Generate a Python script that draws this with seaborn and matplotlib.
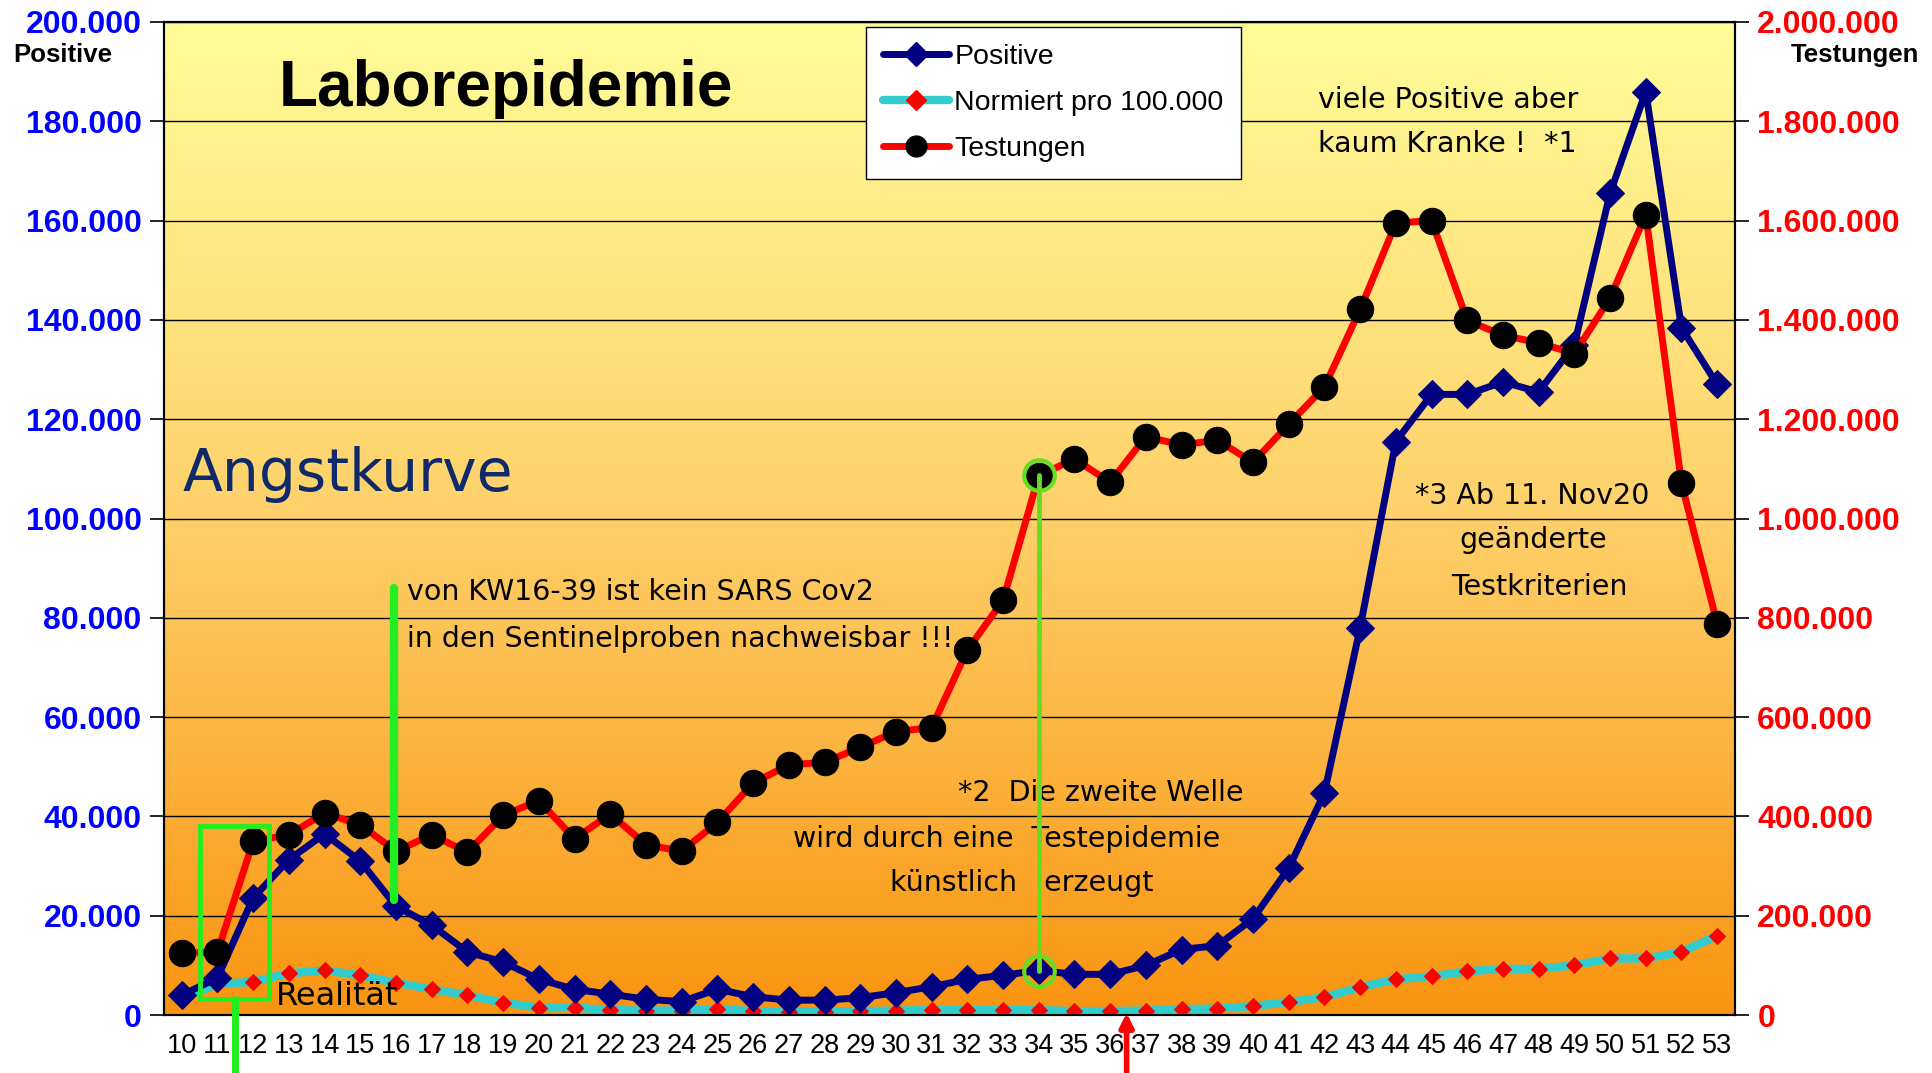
import numpy as np
import pandas as pd
import seaborn as sns
import matplotlib.pyplot as plt
from matplotlib.colors import LinearSegmentedColormap
from matplotlib.lines import Line2D
from matplotlib.patches import Rectangle

# Kalenderwochen 2020
weeks = list(range(10, 54))

positive = [4000, 7500, 23600, 31300, 36500, 31000, 21900, 18100, 12700, 10700,
            7200, 5200, 4200, 3200, 2700, 5200, 3700, 3000, 3000, 3500,
            4500, 5700, 7200, 8000, 9000, 8200, 8200, 10000, 13200, 14000,
            19400, 29600, 44700, 78000, 115500, 125000, 125000, 127500, 125500, 135000,
            165500, 186000, 138400, 127000]

normiert = [3500, 6200, 6700, 8400, 9000, 8000, 6500, 5200, 4000, 2500,
            1500, 1500, 1000, 900, 900, 1200, 800, 700, 700, 800,
            900, 1000, 1000, 1000, 1000, 800, 800, 900, 1200, 1300,
            1800, 2600, 3600, 5600, 7200, 7800, 8800, 9300, 9300, 10000,
            11400, 11400, 12700, 16000]

testungen = [124000, 127000, 350000, 363000, 407000, 383000, 330000, 363000, 328000, 402000,
             432000, 355000, 405000, 343000, 330000, 388000, 467000, 504000, 509000, 539000,
             571000, 579000, 735000, 835000, 1086000, 1120000, 1073000, 1165000, 1148000, 1158000,
             1113000, 1190000, 1265000, 1421000, 1595000, 1600000, 1399000, 1369000, 1354000, 1332000,
             1444000, 1612000, 1071000, 788000]

df = pd.DataFrame({"KW": weeks, "Positive": positive,
                   "Normiert": normiert, "Testungen": testungen})

left_ticks = list(range(0, 200001, 20000))
right_ticks = list(range(0, 2000001, 200000))

def de(v):
    return "{:,}".format(v).replace(",", ".")

sns.set_style("white")
plt.rcParams['font.family'] = ['Liberation Sans', 'DejaVu Sans']
plt.rcParams['text.color'] = 'black'
plt.rcParams['xtick.color'] = 'black'
plt.rcParams['ytick.color'] = 'black'

fig = plt.figure(figsize=(19.33, 10.73), dpi=100)
ax = fig.add_axes([0.0848, 0.054, 0.8128, 0.9255])
ax2 = ax.twinx()

# Hintergrund: Verlauf gelb -> orange
cmap = LinearSegmentedColormap.from_list("bg", [(0, "#F99410"), (0.5, "#FED06A"), (1, "#FFFD99")])
grad = np.linspace(0, 1, 256).reshape(-1, 1)
ax.imshow(grad, extent=[0, 1, 0, 1], transform=ax.transAxes, origin="lower",
          aspect="auto", cmap=cmap, zorder=0)

# Linien
sns.lineplot(data=df, x="KW", y="Normiert", ax=ax, color="#33CCCC", linewidth=6,
             marker="D", markersize=8, markerfacecolor="#FF0000", markeredgecolor="#FF0000", zorder=3)
sns.lineplot(data=df, x="KW", y="Positive", ax=ax, color="#000080", linewidth=5,
             marker="D", markersize=14, markerfacecolor="#000080", markeredgecolor="#000080", zorder=4)
sns.lineplot(data=df, x="KW", y="Testungen", ax=ax2, color="#FF0000", linewidth=5,
             marker="o", markersize=19, markerfacecolor="black", markeredgecolor="black", zorder=4)

ax.set_xlim(9.5, 53.5)
ax.set_ylim(0, 200000)
ax2.set_ylim(0, 2000000)

ax.set_yticks(left_ticks)
ax.set_yticklabels([de(v) for v in left_ticks], color="#0000FF", fontweight="bold", fontsize=23)
ax2.set_yticks(right_ticks)
ax2.set_yticklabels([de(v) for v in right_ticks], color="#FF0000", fontweight="bold", fontsize=23)

ax.set_xticks([w + 0.5 for w in range(9, 54)])
ax.set_xticklabels([])
ax.set_xticks(weeks, minor=True)
ax.set_xticklabels([str(w) for w in weeks], minor=True, fontsize=19.5, color="black")
ax.tick_params(axis="x", which="major", length=10, width=1.2, color="black", direction="out")
ax.tick_params(axis="x", which="minor", length=0, pad=13)
ax.tick_params(axis="y", length=10, width=1.2, color="black", direction="out", pad=6)
ax2.tick_params(axis="y", length=10, width=1.2, color="black", direction="out", pad=6)

ax.yaxis.grid(True, color="black", linewidth=1)
ax.set_axisbelow(False)
for a in (ax, ax2):
    for s in a.spines.values():
        s.set_color("black")
        s.set_linewidth(1.5)
ax.set_xlabel("")
ax.set_ylabel("")
ax2.set_ylabel("")

fig.text(0.007, 0.949, "Positive", fontsize=18.5, fontweight="bold", ha="left", va="center")
fig.text(0.993, 0.949, "Testungen", fontsize=18.5, fontweight="bold", ha="right", va="center")

# Beschriftungen (auf ax2, aber in Koordinaten der linken Achse)
T = ax.transData
ax2.text(19.08, 186600, "Laborepidemie", transform=T, fontsize=46, fontweight="bold",
         ha="center", va="center", color="black")
ax2.text(10.03, 108800, "Angstkurve", transform=T, fontsize=42, color="#0F2A6B",
         family="DejaVu Sans", ha="left", va="center")

txt = dict(transform=T, fontsize=20.5, family="DejaVu Sans", ha="left", va="center", color="black")
ax2.text(16.32, 85200, "von KW16-39 ist kein SARS Cov2", **txt)
ax2.text(16.32, 75800, "in den Sentinelproben nachweisbar !!!", **txt)
ax2.text(41.81, 184300, "viele Positive aber", **txt)
ax2.text(41.81, 175400, "kaum Kranke !  *1", **txt)
ax2.text(44.54, 104600, "*3 Ab 11. Nov20", **txt)
ax2.text(45.79, 95700, "geänderte", **txt)
ax2.text(45.54, 86200, "Testkriterien", **txt)
ax2.text(31.73, 44700, "*2  Die zweite Welle", **txt)
ax2.text(27.13, 35500, "wird durch eine  Testepidemie", **txt)
ax2.text(29.83, 26600, "künstlich   erzeugt", **txt)
ax2.text(12.63, 3700, "Realität", transform=T, fontsize=23, family="DejaVu Sans",
         ha="left", va="center", color="black")

# Grüne Markierungen
green = "#22EE22"
ax2.add_patch(Rectangle((10.52, 3200), 1.93, 34800, transform=T, fill=False,
                        edgecolor=green, linewidth=3.5, zorder=6))
ax2.plot([11.49, 11.49], [3200, -12000], transform=T, color=green, linewidth=5,
         clip_on=False, zorder=6)
ax2.plot([15.94, 15.94], [86000, 23100], transform=T, color=green, linewidth=6, zorder=6)
ax2.plot([34, 34], [108800, 8900], transform=T, color="#66DD22", linewidth=3.5, zorder=6)
ax2.plot([34, 34], [108800, 8900], transform=T, linestyle="none", marker="o", markersize=22,
         markerfacecolor="none", markeredgecolor="#66DD22", markeredgewidth=3, zorder=6)

# Roter Pfeil
ax2.annotate("", xy=(36.46, 1000), xytext=(36.46, -12000), xycoords=T, textcoords=T,
             arrowprops=dict(arrowstyle="-|>,head_length=0.8,head_width=0.4", color="#FF0000", lw=4),
             annotation_clip=False, zorder=7)

# Legende
handles = [
    Line2D([], [], color="#000080", linewidth=5, marker="D", markersize=12,
           markerfacecolor="#000080", markeredgecolor="#000080"),
    Line2D([], [], color="#33CCCC", linewidth=6, marker="D", markersize=10,
           markerfacecolor="#FF0000", markeredgecolor="#FF0000"),
    Line2D([], [], color="#FF0000", linewidth=5, marker="o", markersize=15,
           markerfacecolor="black", markeredgecolor="black"),
]
leg = ax2.legend(handles, ["Positive", "Normiert pro 100.000", "Testungen"],
                 loc="upper left", bbox_to_anchor=(0.447, 0.995), fontsize=20.5,
                 frameon=True, fancybox=False, framealpha=1, edgecolor="black",
                 handlelength=2.3, handletextpad=0.2, labelspacing=0.7, borderpad=0.6,
                 borderaxespad=0)
leg.get_frame().set_linewidth(1)
for t in leg.get_texts():
    t.set_color("black")
leg.set_zorder(10)

fig.savefig("out.png", dpi=100)
